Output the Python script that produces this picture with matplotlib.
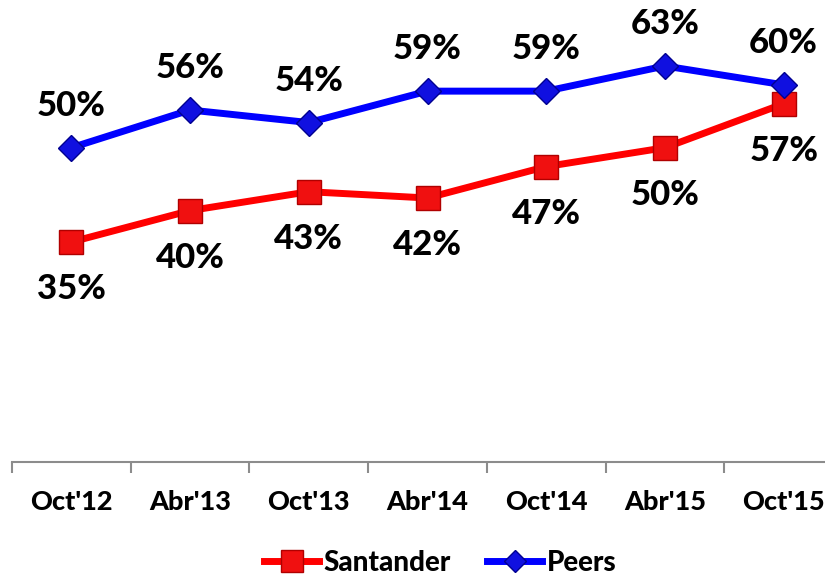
import numpy as np
import matplotlib.pyplot as plt

periods = ["Oct'12", "Abr'13", "Oct'13", "Abr'14", "Oct'14", "Abr'15", "Oct'15"]
santander = [35, 40, 43, 42, 47, 50, 57]
peers = [50, 56, 54, 59, 59, 63, 60]

plt.rcParams['font.family'] = ['Lato', 'DejaVu Sans']

fig = plt.figure(figsize=(8.25, 5.76), dpi=100)
# axis runs a bit past the right edge, as in the original
ax = fig.add_axes([12/825, 1 - 462/576, 831/825, 440/576])

x = np.arange(len(periods))
ax.plot(x, santander, color='#ff0000', lw=5, marker='s', ms=17,
        mfc='#f01010', mec='#b00000', mew=1, label='Santander', zorder=3)
ax.plot(x, peers, color='#0000ff', lw=5, marker='D', ms=13,
        mfc='#1010e0', mec='#000090', mew=1, label='Peers', zorder=3)

for i in range(len(x)):
    ax.annotate(f'{peers[i]}%', (x[i], peers[i]), xytext=(0, 42),
                textcoords='offset pixels', ha='center', va='center',
                fontsize=25, fontweight='black')
    ax.annotate(f'{santander[i]}%', (x[i], santander[i]), xytext=(0, -47),
                textcoords='offset pixels', ha='center', va='center',
                fontsize=25, fontweight='black')

ax.set_xlim(-0.5, len(periods) - 0.5)
ax.set_ylim(0, 70)
ax.set_yticks([])
for s in ['top', 'right', 'left']:
    ax.spines[s].set_visible(False)
ax.spines['bottom'].set_color('#8c8c8c')
ax.spines['bottom'].set_linewidth(1.5)

ax.set_xticks(np.arange(-0.5, len(periods), 1.0), minor=False)
ax.set_xticklabels([])
ax.tick_params(axis='x', which='major', length=8, width=1.5, color='#8c8c8c')
ax.set_xticks(x, minor=True)
ax.set_xticklabels(periods, minor=True, fontsize=19.5, fontweight='black')
ax.tick_params(axis='x', which='minor', length=0, pad=20)

leg = fig.legend(loc='center', bbox_to_anchor=(440/825, 1 - 563/576), ncol=2,
                 frameon=False, prop={'size': 20, 'weight': 'black'},
                 handlelength=2.0, handletextpad=0.15, columnspacing=1.3,
                 markerscale=0.9)

fig.savefig('out.png', dpi=100)
